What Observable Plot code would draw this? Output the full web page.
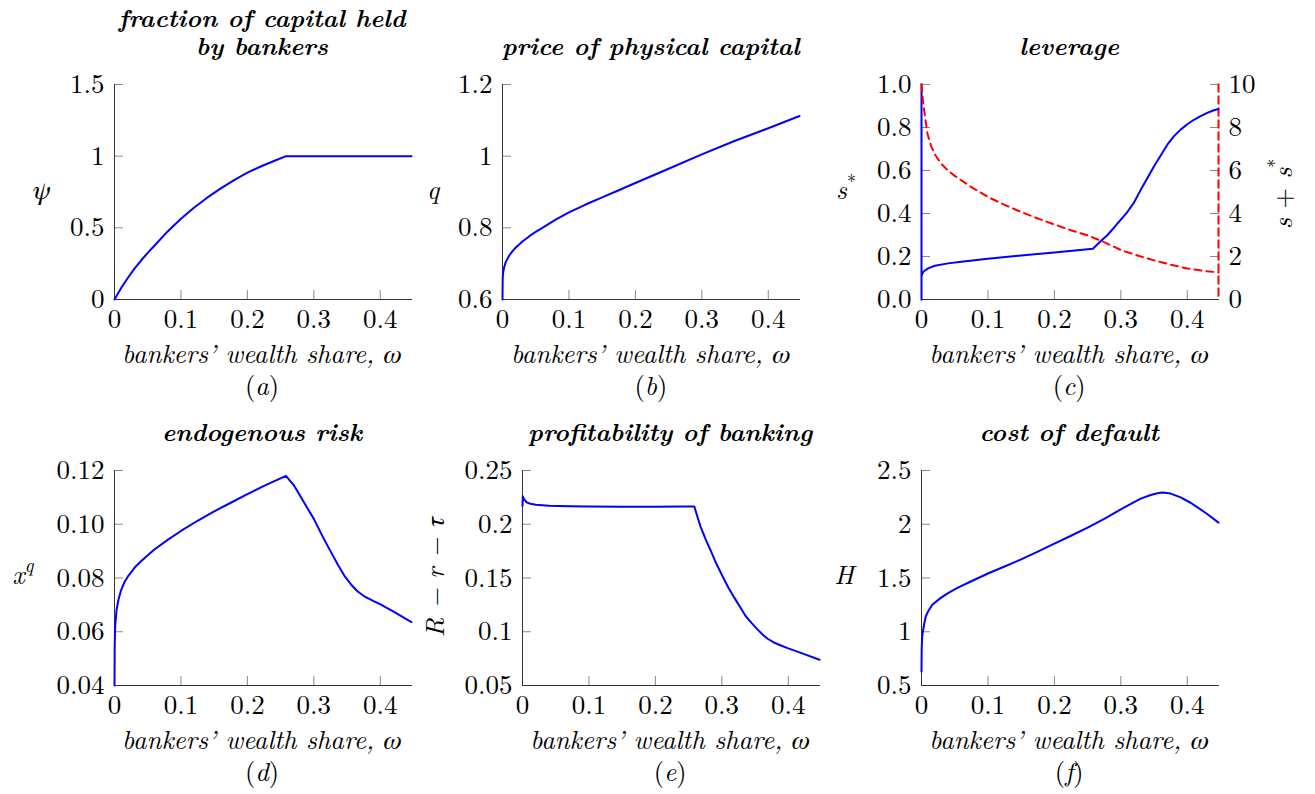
<!DOCTYPE html>
<html><head><meta charset="utf-8">
<script src="https://cdn.jsdelivr.net/npm/d3@7"></script>
<script src="https://cdn.jsdelivr.net/npm/@observablehq/plot@0.6"></script>
<style>
html,body{margin:0;padding:0;background:#fff;}
#wrap{position:relative;width:1315px;height:794px;overflow:hidden;background:#fff;font-family:"Latin Modern Roman","Liberation Serif",serif;}
#wrap svg, #wrap text, #wrap tspan{font-family:"Latin Modern Roman","Liberation Serif",serif !important;}
#wrap tspan.greek{font-family:"FreeSerif","Tinos","Times New Roman","Liberation Serif","STIX Two Text","Noto Serif",serif !important;font-style:italic;font-weight:normal;}
</style></head><body><div id="wrap"></div>
<script>
const FONT = '"Latin Modern Roman", "Liberation Serif", serif';
const BLUE = "#0000ff", RED = "#ff0000";
const X_DOMAIN = [0, 0.447];
const xTicks = [0, 0.1, 0.2, 0.3, 0.4];
const xTickLabels = ["0", "0.1", "0.2", "0.3", "0.4"];

// (a) fraction of capital held by bankers
const omegaA = [0, 0.01, 0.02, 0.03, 0.04, 0.05, 0.06, 0.08, 0.10, 0.12, 0.14, 0.16, 0.18, 0.20, 0.22, 0.24, 0.258, 0.30, 0.35, 0.40, 0.447];
const psiA   = [0, 0.08, 0.15, 0.215, 0.272, 0.325, 0.375, 0.475, 0.564, 0.642, 0.712, 0.775, 0.833, 0.885, 0.928, 0.966, 1.0, 1.0, 1.0, 1.0, 1.0];
const yTicksA = [0, 0.5, 1, 1.5];
const yLabelsA = ["0", "0.5", "1", "1.5"];

// (b) price of physical capital
const omegaB = [0, 0.0003, 0.001, 0.0025, 0.005, 0.01, 0.015, 0.02, 0.03, 0.04, 0.05, 0.06, 0.08, 0.10, 0.125, 0.15, 0.175, 0.20, 0.25, 0.30, 0.35, 0.40, 0.447];
const qB     = [0.6, 0.66, 0.675, 0.69, 0.705, 0.722, 0.735, 0.745, 0.762, 0.776, 0.789, 0.80, 0.823, 0.843, 0.865, 0.885, 0.905, 0.925, 0.965, 1.005, 1.043, 1.078, 1.112];
const yTicksB = [0.6, 0.8, 1, 1.2];
const yLabelsB = ["0.6", "0.8", "1", "1.2"];

// (c) leverage: s* (left axis) and s + s* (right axis)
const omegaC1 = [0.0005, 0.003, 0.01, 0.02, 0.04, 0.06, 0.08, 0.10, 0.15, 0.20, 0.258, 0.27, 0.28, 0.29, 0.30, 0.31, 0.32, 0.33, 0.34, 0.35, 0.36, 0.37, 0.38, 0.39, 0.40, 0.41, 0.42, 0.43, 0.44, 0.447];
const sStarC  = [0.115, 0.13, 0.145, 0.157, 0.168, 0.176, 0.183, 0.19, 0.205, 0.219, 0.236, 0.272, 0.30, 0.335, 0.372, 0.408, 0.452, 0.51, 0.565, 0.62, 0.67, 0.72, 0.76, 0.79, 0.815, 0.836, 0.853, 0.868, 0.88, 0.886];
const omegaC2 = [0, 0.002, 0.004, 0.009, 0.015, 0.02, 0.03, 0.04, 0.05, 0.075, 0.10, 0.125, 0.15, 0.175, 0.20, 0.225, 0.25, 0.275, 0.30, 0.325, 0.35, 0.375, 0.40, 0.425, 0.447];
const sSumC   = [10, 9.3, 8.8, 7.7, 7.1, 6.75, 6.3, 6.0, 5.75, 5.23, 4.77, 4.4, 4.07, 3.77, 3.49, 3.22, 2.98, 2.67, 2.3, 2.05, 1.82, 1.62, 1.44, 1.33, 1.26];
const yTicksC = [0, 0.2, 0.4, 0.6, 0.8, 1.0];
const yLabelsC = ["0.0", "0.2", "0.4", "0.6", "0.8", "1.0"];
const yRightTicksC = [0, 2, 4, 6, 8, 10];
const yRightLabelsC = ["0", "2", "4", "6", "8", "10"];

// (d) endogenous risk
const omegaD = [0, 0.0003, 0.001, 0.003, 0.006, 0.01, 0.015, 0.02, 0.03, 0.04, 0.05, 0.06, 0.08, 0.10, 0.125, 0.15, 0.175, 0.20, 0.225, 0.258, 0.27, 0.286, 0.30, 0.313, 0.325, 0.336, 0.346, 0.356, 0.366, 0.376, 0.39, 0.401, 0.42, 0.447];
const xqD    = [0.04, 0.055, 0.062, 0.068, 0.072, 0.0755, 0.0785, 0.0805, 0.0838, 0.0862, 0.0885, 0.0906, 0.0942, 0.0975, 0.1013, 0.1048, 0.108, 0.1112, 0.1143, 0.118, 0.1145, 0.1078, 0.102, 0.0956, 0.090, 0.085, 0.0808, 0.0776, 0.075, 0.0732, 0.0714, 0.0701, 0.0675, 0.0636];
const yTicksD = [0.04, 0.06, 0.08, 0.10, 0.12];
const yLabelsD = ["0.04", "0.06", "0.08", "0.10", "0.12"];

// (e) profitability of banking
const omegaE = [0, 0.0004, 0.002, 0.006, 0.012, 0.02, 0.04, 0.07, 0.10, 0.15, 0.20, 0.24, 0.2585, 0.2635, 0.2685, 0.276, 0.2836, 0.292, 0.301, 0.31, 0.319, 0.328, 0.336, 0.345, 0.354, 0.362, 0.369, 0.38, 0.39, 0.399, 0.42, 0.447];
const rrtE   = [0.217, 0.226, 0.2235, 0.2205, 0.219, 0.2182, 0.2172, 0.2167, 0.2164, 0.2162, 0.2163, 0.2165, 0.2166, 0.2065, 0.1968, 0.1855, 0.175, 0.163, 0.1517, 0.141, 0.1315, 0.1225, 0.1144, 0.108, 0.102, 0.097, 0.0935, 0.0895, 0.087, 0.0848, 0.0801, 0.0739];
const yTicksE = [0.05, 0.1, 0.15, 0.2, 0.25];
const yLabelsE = ["0.05", "0.1", "0.15", "0.2", "0.25"];

// (f) cost of default
const omegaF = [0, 0.0003, 0.001, 0.002, 0.004, 0.0065, 0.01, 0.0166, 0.029, 0.04, 0.054, 0.075, 0.10, 0.125, 0.15, 0.175, 0.20, 0.225, 0.25, 0.275, 0.30, 0.315, 0.33, 0.345, 0.355, 0.363, 0.375, 0.39, 0.405, 0.416, 0.43, 0.447];
const hF     = [0.63, 0.85, 0.95, 1.0, 1.07, 1.144, 1.19, 1.253, 1.315, 1.36, 1.408, 1.47, 1.542, 1.607, 1.673, 1.745, 1.819, 1.893, 1.968, 2.05, 2.139, 2.19, 2.238, 2.272, 2.288, 2.295, 2.285, 2.25, 2.2, 2.155, 2.095, 2.015];
const yTicksF = [0.5, 1, 1.5, 2, 2.5];
const yLabelsF = ["0.5", "1", "1.5", "2", "2.5"];

const titles = {
  a: ["fraction of capital held", "by bankers"],
  b: ["price of physical capital"],
  c: ["leverage"],
  d: ["endogenous risk"],
  e: ["profitability of banking"],
  f: ["cost of default"]
};
const xLabelText = "bankers’ wealth share, ";
const xLabelSymbol = "ω";

const FW = 297, FH = 215;
const frames = {
  a: {left: 113.5, top: 84.3}, b: {left: 502.3, top: 84.3}, c: {left: 920.7, top: 84.3},
  d: {left: 113.5, top: 469.7}, e: {left: 521.7, top: 469.7}, f: {left: 920.7, top: 469.7}
};

const wrap = document.getElementById("wrap");
const fmt = (ticks, labels) => d => labels[ticks.indexOf(d)];
const TICK = "#8a8a8a", AXIS = "#333";

function panel(key, yDomain, yTicks, yLabels, dataMarks, opts = {}) {
  const ml = 95, mr = opts.right ? 80 : 25, mt = 12, mb = 50;
  const fr = frames[key];
  const marks = [
    Plot.axisX(xTicks, {tickSize: 0, tickPadding: 9, tickFormat: fmt(xTicks, xTickLabels), label: null}),
    Plot.axisY(yTicks, {tickSize: 0, tickPadding: 10, tickFormat: fmt(yTicks, yLabels), label: null}),
    Plot.axisX(xTicks, {tickSize: 9, dy: -9, fill: "none", stroke: TICK, label: null}),
    Plot.axisY(yTicks, {tickSize: 9, dx: 9, fill: "none", stroke: TICK, label: null})
  ];
  if (opts.right) {
    const k = (yDomain[1] - yDomain[0]) / (opts.right.domain[1] - opts.right.domain[0]);
    const rt = opts.right.ticks.map(t => t * k);
    marks.push(
      Plot.axisY(rt, {anchor: "right", tickSize: 0, tickPadding: 10, tickFormat: fmt(rt, opts.right.labels), label: null}),
      Plot.axisY(rt, {anchor: "right", tickSize: 9, dx: -9, fill: "none", stroke: TICK, label: null})
    );
  }
  marks.push(Plot.frame({anchor: "bottom", stroke: AXIS, strokeWidth: 1}));
  if (opts.leftStyle) marks.push(Plot.frame({anchor: "left", ...opts.leftStyle}));
  else marks.push(Plot.frame({anchor: "left", stroke: AXIS, strokeWidth: 1}));
  if (opts.rightStyle) marks.push(Plot.frame({anchor: "right", ...opts.rightStyle}));
  marks.push(...dataMarks);
  const svg = Plot.plot({
    width: ml + FW + mr, height: mt + FH + mb,
    marginLeft: ml, marginRight: mr, marginTop: mt, marginBottom: mb,
    x: {domain: X_DOMAIN},
    y: {domain: yDomain},
    style: {fontFamily: FONT, fontSize: "27px", background: "transparent", overflow: "visible", color: "#000"},
    marks
  });
  svg.style.position = "absolute";
  svg.style.left = (fr.left - ml) + "px";
  svg.style.top = (fr.top - mt) + "px";
  svg.style.maxWidth = "none";
  wrap.appendChild(svg);
}

const lineOpts = {stroke: BLUE, strokeWidth: 2, strokeLinejoin: "round"};

panel("a", [0, 1.5], yTicksA, yLabelsA, [Plot.line(psiA, {x: omegaA, y: psiA, ...lineOpts})]);
panel("b", [0.6, 1.2], yTicksB, yLabelsB, [Plot.line(qB, {x: omegaB, y: qB, ...lineOpts})]);
{
  const rightDomain = [0, 10];
  const k = 1 / (rightDomain[1] - rightDomain[0]);
  const sumScaled = sSumC.map(v => v * k);
  panel("c", [0, 1], yTicksC, yLabelsC, [
    Plot.line(sumScaled, {x: omegaC2, y: sumScaled, stroke: RED, strokeWidth: 2, strokeDasharray: "7,5"}),
    Plot.line(sStarC, {x: omegaC1, y: sStarC, ...lineOpts})
  ], {
    right: {domain: rightDomain, ticks: yRightTicksC, labels: yRightLabelsC},
    leftStyle: {stroke: BLUE, strokeWidth: 2},
    rightStyle: {stroke: RED, strokeWidth: 2, strokeDasharray: "7,5"}
  });
}
panel("d", [0.04, 0.12], yTicksD, yLabelsD, [Plot.line(xqD, {x: omegaD, y: xqD, ...lineOpts})]);
panel("e", [0.05, 0.25], yTicksE, yLabelsE, [Plot.line(rrtE, {x: omegaE, y: rrtE, ...lineOpts})]);
panel("f", [0.5, 2.5], yTicksF, yLabelsF, [Plot.line(hF, {x: omegaF, y: hF, ...lineOpts})]);

// text overlay
const ov = d3.select(wrap).append("svg")
  .attr("width", 1315).attr("height", 794)
  .style("position", "absolute").style("left", "0px").style("top", "0px")
  .style("pointer-events", "none")
  .attr("font-size", 26.5).attr("fill", "#000");

for (const key of Object.keys(frames)) {
  const fr = frames[key];
  const cx = fr.left + FW / 2;
  const bottom = fr.top + FH;
  const lines = titles[key];
  lines.forEach((ln, i) => {
    ov.append("text").attr("x", cx).attr("y", fr.top - 29 - (lines.length - 1 - i) * 28)
      .attr("text-anchor", "middle").attr("font-weight", "bold").attr("font-style", "italic")
      .attr("font-size", 25)
      .text(ln);
  });
  const xl = ov.append("text").attr("x", cx).attr("y", bottom + 64)
    .attr("text-anchor", "middle").attr("font-style", "italic");
  xl.append("tspan").text(xLabelText);
  xl.append("tspan").attr("class", "greek").text(xLabelSymbol);
  const sub = ov.append("text").attr("x", cx).attr("y", bottom + 96).attr("text-anchor", "middle");
  sub.append("tspan").text("(");
  sub.append("tspan").attr("font-style", "italic").text(key);
  sub.append("tspan").text(")");
}

// y labels
function yl(x, y) {
  return ov.append("text").attr("x", x).attr("y", y).attr("text-anchor", "middle").attr("font-style", "italic");
}
const midA = frames.a.top + FH / 2 + 7, midD = frames.d.top + FH / 2 + 7;
yl(41, midA).append("tspan").attr("class", "greek").text("ψ");
yl(433, midA).text("q");
{
  const t = yl(846, midA); t.append("tspan").text("s");
  t.append("tspan").attr("dy", -11).attr("font-size", 18).attr("font-style", "normal").text("*");
}
{
  const t = yl(23, midD); t.append("tspan").text("x");
  t.append("tspan").attr("dy", -12).attr("font-size", 19).text("q");
}
yl(844, midD).text("H");
{
  const t = ov.append("text").attr("transform", `translate(444,${frames.e.top + FH / 2}) rotate(-90)`)
    .attr("text-anchor", "middle").attr("font-style", "italic");
  t.append("tspan").text("R − r − ");
  t.append("tspan").attr("class", "greek").text("τ");
}
{
  const t = ov.append("text").attr("transform", `translate(1292,${frames.c.top + FH / 2 + 2}) rotate(-90)`)
    .attr("text-anchor", "middle").attr("font-style", "italic");
  t.append("tspan").text("s ");
  t.append("tspan").attr("font-style", "normal").text("+");
  t.append("tspan").text(" s");
  t.append("tspan").attr("dy", -11).attr("font-size", 18).attr("font-style", "normal").text("*");
}
</script></body></html>
